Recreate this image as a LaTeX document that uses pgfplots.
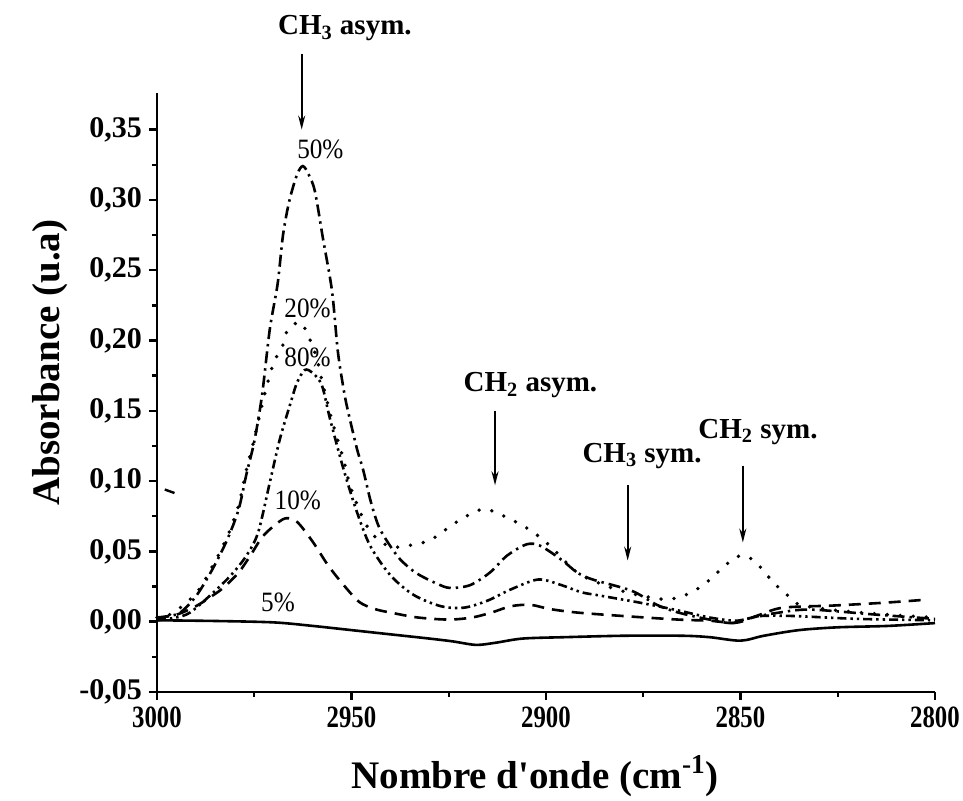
\documentclass[border=0pt]{standalone}
\usepackage{fontspec}
\setmainfont{Liberation Serif}
\newfontfamily\condfont[FakeStretch=0.8]{Liberation Serif}
\newfontfamily\pctfont[FakeStretch=0.9]{Liberation Serif}
\usepackage{pgfplots}
\pgfplotsset{compat=1.18}
\usetikzlibrary{arrows.meta}

\pgfplotsset{
  s5/.style={black, line width=1.3pt},
  s10/.style={black, line width=1.3pt, dash pattern=on 6pt off 4pt},
  s20/.style={black, line width=1.9pt, line cap=round, dash pattern=on 0pt off 6.5pt},
  s50/.style={black, line width=1.3pt, dash pattern=on 6pt off 2.5pt on 1.2pt off 2.5pt},
  s80/.style={black, line width=1.3pt, dash pattern=on 4.5pt off 2pt on 1.2pt off 2pt on 1.2pt off 2pt},
}
\tikzset{
  pct/.style={font=\pctfont\fontsize{14}{14}\selectfont},
  ann/.style={font=\bfseries\fontsize{14.5}{14.5}\selectfont},
  pk/.style={-{Stealth[length=7pt,width=3.5pt]}, line width=0.9pt},
}

\begin{document}
\begin{tikzpicture}
\useasboundingbox (-78.5pt,-54.5pt) rectangle (403pt,346pt);
\begin{axis}[
  at={(0,0)}, anchor=south west,
  scale only axis, width=389pt, height=299.5pt,
  x dir=reverse,
  xmin=2800, xmax=3000, ymin=-0.05, ymax=0.376,
  axis x line*=bottom, axis y line*=left,
  axis line style={-, line width=1.4pt},
  tick align=outside,
  major tick length=4pt, minor tick length=2.5pt,
  every tick/.style={black, line width=1.2pt},
  xtick={2800,2850,...,3000}, minor x tick num=1,
  ytick={-0.05,0,0.05,0.1,0.15,0.2,0.25,0.3,0.35}, minor y tick num=1,
  /pgf/number format/assume math mode=true,
  x tick label style={font=\condfont\bfseries\fontsize{15.5}{15.5}\selectfont,
    /pgf/number format/.cd, fixed, precision=0, 1000 sep={}},
  y tick label style={font=\bfseries\fontsize{15}{15}\selectfont,
    /pgf/number format/.cd, fixed, fixed zerofill, precision=2, use comma},
  xlabel={Nombre d\textquotesingle onde (cm\textsuperscript{-1})},
  ylabel={Absorbance (u.a)},
  xlabel style={font=\bfseries\fontsize{19.5}{19.5}\selectfont,
    at={(axis description cs:0.486,-0.141)}, anchor=center},
  ylabel style={font=\bfseries\fontsize{19.5}{19.5}\selectfont,
    at={(axis description cs:-0.1375,0.55)}, anchor=center, rotate=0},
  clip=false,
]
% 5 %
\addplot[s5, smooth, tension=0.5] coordinates {
(3000,0.001)(2985,0.0005)(2970,-0.0005)(2960,-0.003)(2950,-0.006)(2940,-0.009)
(2930,-0.012)(2924,-0.014)(2918,-0.0165)(2913,-0.015)(2906,-0.012)(2895,-0.011)
(2880,-0.010)(2865,-0.010)(2858,-0.011)(2850,-0.0135)(2844,-0.010)(2835,-0.006)
(2825,-0.004)(2812,-0.003)(2800,-0.001)};
% 10 %
\addplot[s10, smooth, tension=0.5] coordinates {
(3000,0.003)(2995,0.005)(2990,0.011)(2986,0.018)(2983,0.024)(2979,0.035)
(2976,0.047)(2973,0.060)(2970,0.068)(2967,0.0735)(2964,0.071)(2960,0.057)
(2956,0.040)(2952,0.026)(2948,0.014)(2944,0.009)(2940,0.0065)(2933,0.003)
(2925,0.0015)(2919,0.003)(2914,0.0065)(2909,0.011)(2904,0.012)(2899,0.009)
(2892,0.0065)(2880,0.004)(2866,0.0015)(2858,0.0007)(2851,-0.0007)(2845,0.005)
(2839,0.010)(2826,0.0115)(2813,0.0135)(2802,0.0157)};
% 20 %
\addplot[s20, smooth, tension=0.5] coordinates {
(3000,0.003)(2996,0.006)(2990,0.020)(2986,0.038)(2982,0.060)(2979,0.083)
(2977,0.108)(2975,0.130)(2972.5,0.160)(2970.5,0.180)(2969,0.190)(2967.6,0.197)
(2966.3,0.208)(2963.2,0.213)(2961.2,0.204)(2959,0.188)(2957.3,0.168)(2954.8,0.141)
(2952,0.115)(2950.4,0.097)(2947,0.073)(2944.5,0.062)(2942,0.056)(2939.3,0.053)
(2935.7,0.054)(2929.8,0.058)(2922.9,0.071)(2916.2,0.080)(2910,0.074)(2904,0.065)
(2899,0.054)(2892,0.035)(2885,0.026)(2878,0.020)(2870,0.016)(2865,0.018)
(2859.6,0.026)(2853.5,0.041)(2850,0.047)(2846.8,0.044)(2844,0.036)(2841.6,0.028)
(2838,0.019)(2834.7,0.012)(2825,0.008)(2812,0.005)(2800,0.003)};
% 50 %
\addplot[s50, smooth, tension=0.5] coordinates {
(3000,0.002)(2997,0.004)(2994,0.0065)(2990,0.018)(2986,0.036)(2982,0.058)
(2979,0.080)(2977,0.105)(2975,0.128)(2973,0.161)(2971,0.208)(2969,0.240)
(2967.6,0.275)(2966,0.299)(2964,0.318)(2962.5,0.324)(2961,0.318)(2959.4,0.306)
(2957.3,0.272)(2955,0.235)(2953.5,0.192)(2952,0.165)(2951,0.151)(2948.6,0.123)
(2947,0.108)(2945,0.085)(2942.7,0.066)(2938.3,0.047)(2935,0.038)(2932.4,0.033)
(2928,0.027)(2924.7,0.024)(2919.5,0.026)(2914.4,0.035)(2910,0.047)(2905,0.055)
(2901.5,0.054)(2896,0.044)(2892,0.035)(2888,0.030)(2878,0.022)(2871.5,0.012)
(2866,0.0065)(2858,0.0015)(2852,-0.001)(2847,0.003)(2840,0.0065)(2832,0.0086)
(2815,0.005)(2800,0.002)};
% 80 %
\addplot[s80, smooth, tension=0.5] coordinates {
(3000,0.001)(2995,0.003)(2991.5,0.0065)(2986.4,0.0185)(2981,0.033)(2977,0.047)
(2974,0.0635)(2971,0.099)(2968.4,0.130)(2965.5,0.157)(2964,0.170)(2962,0.179)
(2960,0.177)(2957.6,0.168)(2955.5,0.144)(2952,0.108)(2948.6,0.078)(2945.2,0.054)
(2940,0.033)(2934,0.019)(2927,0.011)(2921,0.010)(2915,0.015)(2909,0.023)
(2902,0.030)(2896,0.026)(2891,0.021)(2886,0.0185)(2876,0.0136)(2866,0.008)
(2858,0.003)(2851,0.0007)(2845,0.004)(2836,0.004)(2820,0.002)(2800,0.001)};
% stray mark
\addplot[black, line width=1.2pt] coordinates {(2998,0.094)(2995.5,0.0915)};

% labels
\node[pct] at (axis cs:2958,0.336) {50\%};
\node[pct] at (axis cs:2961.3,0.2226) {20\%};
\node[pct] at (axis cs:2961.3,0.188) {80\%};
\node[pct] at (axis cs:2963.8,0.086) {10\%};
\node[pct] at (axis cs:2968.9,0.0136) {5\%};

\node[ann] at (axis cs:2951.7,0.422) {CH\textsubscript{3} asym.};
\node[ann] at (axis cs:2904,0.168) {CH\textsubscript{2} asym.};
\node[ann] at (axis cs:2875.3,0.118) {CH\textsubscript{3} sym.};
\node[ann] at (axis cs:2845.5,0.135) {CH\textsubscript{2} sym.};

\draw[pk] (axis cs:2962.8,0.404) -- (axis cs:2962.8,0.350);
\draw[pk] (axis cs:2913.1,0.150) -- (axis cs:2913.1,0.097);
\draw[pk] (axis cs:2879,0.097) -- (axis cs:2879,0.0435);
\draw[pk] (axis cs:2849.4,0.111) -- (axis cs:2849.4,0.0563);
\end{axis}
\end{tikzpicture}
\end{document}
